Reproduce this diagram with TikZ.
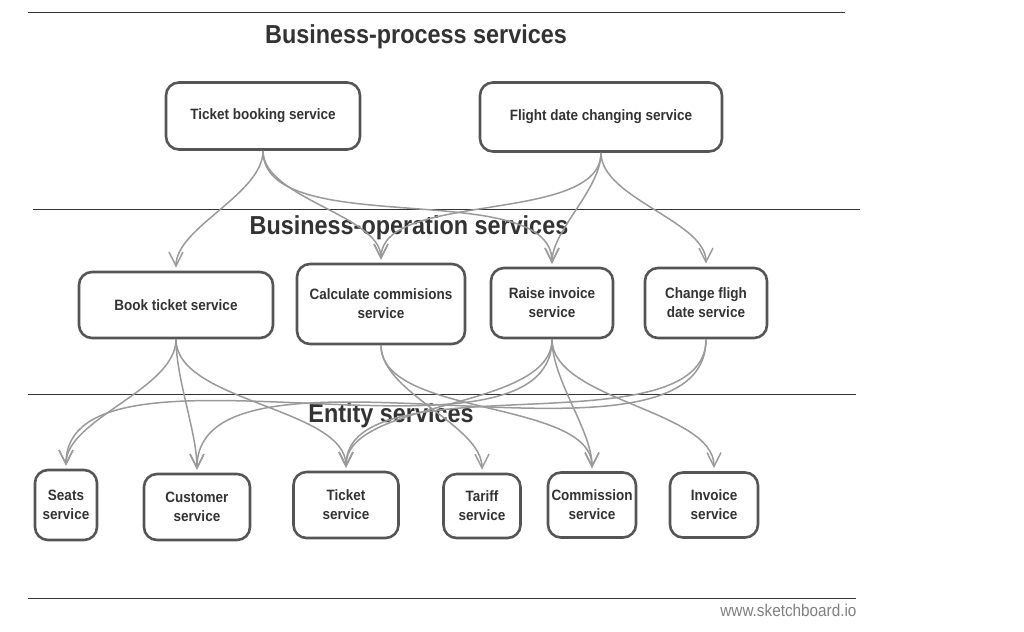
\documentclass[tikz,border=0pt]{standalone}
\usepackage{fontspec}
\setmainfont{Liberation Sans}[FakeStretch=0.9]
\usetikzlibrary{arrows.meta}

\definecolor{boxline}{HTML}{555555}
\definecolor{txtdark}{HTML}{333333}
\definecolor{linkgray}{HTML}{9A9A9A}

\tikzset{
    svc/.style={draw=boxline, line width=2.6pt, rounded corners=13pt, fill=white,
        align=center, inner sep=0pt, text=txtdark,
        font=\fontsize{15}{19}\selectfont\bfseries},
    layertitle/.style={text=txtdark, font=\fontsize{26}{30}\selectfont\bfseries},
    layerline/.style={draw=txtdark, line width=1pt},
    link/.style={draw=linkgray, line width=1.5pt, out=-90, in=90, looseness=0.75,
        -{Straight Barb[length=14pt,width=14pt]}, shorten >=3pt}
}

\begin{document}
\begin{tikzpicture}[x=1pt,y=-1pt]
    \fill[white] (0,0) rectangle (1024,631);
    \useasboundingbox (0,0) rectangle (1024,631);

    % Layer separators
    \draw[layerline] (28,13) -- (845,13);
    \draw[layerline] (33,209) -- (860,209);
    \draw[layerline] (28,394) -- (856,394);
    \draw[layerline] (28,598) -- (856,598);

    % Layer titles
    \node[layertitle] (tproc) at (416,37) {Business-process services};
    \node[layertitle] (toper) at (409,228) {Business-operation services};
    \node[layertitle] (tent) at (391,416) {Entity services};

    % Business-process services
    \node[svc, minimum width=194pt, minimum height=67pt] (tb) at (263,116) {Ticket booking service};
    \node[svc, minimum width=242pt, minimum height=69pt] (fd) at (601,117) {Flight date changing service};

    % Business-operation services
    \node[svc, minimum width=194pt, minimum height=66pt] (bt) at (176,305) {Book ticket service};
    \node[svc, minimum width=168pt, minimum height=80pt] (cc) at (381,304) {Calculate commisions\\service};
    \node[svc, minimum width=122pt, minimum height=70pt] (ri) at (552,303) {Raise invoice\\service};
    \node[svc, minimum width=122pt, minimum height=70pt] (cf) at (706,303) {Change fligh\\date service};

    % Entity services
    \node[svc, minimum width=62pt, minimum height=70pt] (seats) at (66,505) {Seats\\service};
    \node[svc, minimum width=106pt, minimum height=66pt] (cust) at (197,507) {Customer\\service};
    \node[svc, minimum width=105pt, minimum height=66pt] (tick) at (346,505) {Ticket\\service};
    \node[svc, minimum width=77pt, minimum height=64pt] (tariff) at (482,506) {Tariff\\service};
    \node[svc, minimum width=88pt, minimum height=65pt] (comm) at (592,505) {Commission\\service};
    \node[svc, minimum width=88pt, minimum height=65pt] (inv) at (714,505) {Invoice\\service};

    % Process -> operation
    \draw[link] (tb.south) to (bt.north);
    \draw[link] (tb.south) to (cc.north);
    \draw[link] (tb.south) to (ri.north);
    \draw[link] (fd.south) to (cc.north);
    \draw[link] (fd.south) to (ri.north);
    \draw[link] (fd.south) to (cf.north);

    % Operation -> entity
    \draw[link] (bt.south) to (seats.north);
    \draw[link] (bt.south) to (cust.north);
    \draw[link] (bt.south) to (tick.north);
    \draw[link] (cc.south) to (tariff.north);
    \draw[link] (cc.south) to (comm.north);
    \draw[link] (ri.south) to (seats.north);
    \draw[link] (ri.south) to (tick.north);
    \draw[link] (ri.south) to (comm.north);
    \draw[link] (ri.south) to (inv.north);
    \draw[link] (cf.south) to (cust.north);
    \draw[link] (cf.south) to (tick.north);

    % Watermark
    \node[text=gray, font=\fontsize{17}{20}\selectfont, anchor=east] (mark) at (860,610) {www.sketchboard.io};
\end{tikzpicture}
\end{document}
